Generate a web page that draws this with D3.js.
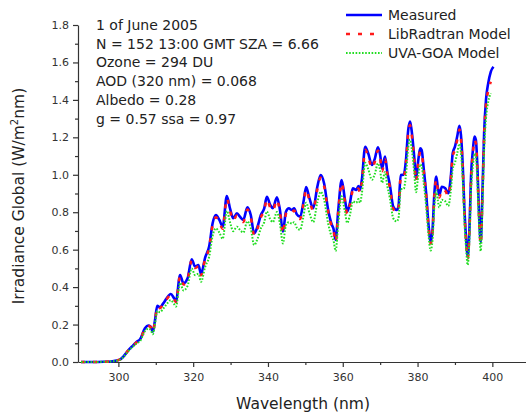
<!DOCTYPE html>
<html lang="en">
<head>
    <meta charset="UTF-8">
    <title>Irradiance</title>
    <script src="https://d3js.org/d3.v7.min.js"></script>
    <style>
        body { margin: 0; background: white; }
        text { font-family: 'DejaVu Sans', Verdana, sans-serif; fill: #222; }
        .tick text { font-size: 11px; fill: #333; }
    </style>
</head>
<body>
<script>
    const width = 526;
    const height = 414;

    const wavelength = [290, 293, 296, 298, 299.5, 300.5, 301.3, 302.7, 304, 304.9, 305.8, 307.1, 308, 308.6, 309.2, 309.8,
        310.4, 311.1, 312, 312.9, 314, 314.9, 315.4, 316.5, 317.4, 318.5, 319.6, 320.5, 321.4, 322.1, 323.2, 324.3,
        325.2, 326.1, 327, 327.9, 329, 329.9, 330.7, 331.7, 332.5, 333.4, 334.5, 335.4, 336.3, 337.2, 338.1, 339,
        339.7, 340.6, 341.3, 342.4, 343.2, 344, 344.8, 345.6, 346.4, 347, 347.7, 348.6, 349.5, 350.2, 351.1, 352.1,
        353.2, 354.1, 355, 356.1, 357.1, 357.5, 358.1, 358.8, 359.7, 360.6, 361.2, 361.9, 362.7, 363.6, 364.2, 364.6,
        365.1, 366, 366.8, 367.8, 368.6, 369.4, 370, 370.5, 371.3, 371.9, 372.6, 373.5, 374.4, 374.9, 375.5, 376.3,
        376.9, 377.5, 378, 378.4, 379.1, 379.6, 380.2, 380.7, 381.1, 381.6, 382.3, 382.9, 383.5, 384, 384.5, 385,
        385.4, 385.8, 386.5, 387.4, 388.2, 388.9, 389.4, 390, 390.6, 391.2, 391.6, 392.1, 392.5, 393, 393.4, 393.9,
        394.3, 394.8, 395.2, 395.6, 396, 396.4, 396.9, 397.3, 397.8, 398.3, 398.9, 399.6, 400.3];

    const measured = [0, 0, 0.001, 0.003, 0.008, 0.014, 0.028, 0.064, 0.09, 0.108, 0.121, 0.18, 0.195, 0.19, 0.162, 0.224,
        0.30, 0.292, 0.313, 0.34, 0.363, 0.34, 0.325, 0.465, 0.42, 0.447, 0.549, 0.51, 0.518, 0.47, 0.558, 0.62,
        0.741, 0.785, 0.759, 0.723, 0.887, 0.816, 0.768, 0.794, 0.776, 0.759, 0.826, 0.785, 0.687, 0.723, 0.785, 0.821,
        0.883, 0.839, 0.821, 0.88, 0.812, 0.696, 0.803, 0.821, 0.812, 0.821, 0.789, 0.776, 0.856, 0.935, 0.874, 0.821,
        0.936, 0.999, 0.955, 0.812, 0.732, 0.714, 0.652, 0.812, 0.972, 0.865, 0.803, 0.848, 0.928, 0.919, 0.94, 0.919,
        0.972, 1.15, 1.115, 1.052, 1.088, 1.147, 1.106, 1.035, 1.097, 1.017, 0.946, 0.83, 0.812, 0.83, 0.999, 1.0,
        1.079, 1.239, 1.284, 1.239, 1.097, 0.981, 1.079, 1.141, 1.132, 1.043, 0.901, 0.741, 0.643, 0.705, 0.901, 0.99,
        0.936, 0.892, 0.936, 0.928, 0.901, 0.99, 1.115, 1.15, 1.204, 1.261, 1.213, 1.043, 0.83, 0.652, 0.56, 0.723,
        0.99, 1.132, 1.204, 1.186, 1.043, 0.812, 0.64, 0.865, 1.222, 1.4, 1.489, 1.551, 1.577];

    const libradtran = [0, 0, 0.001, 0.003, 0.008, 0.014, 0.028, 0.063, 0.089, 0.106, 0.119, 0.177, 0.192, 0.187, 0.16, 0.221,
        0.296, 0.288, 0.308, 0.335, 0.358, 0.335, 0.32, 0.458, 0.414, 0.44, 0.541, 0.502, 0.51, 0.463, 0.55, 0.611,
        0.73, 0.773, 0.748, 0.712, 0.874, 0.804, 0.756, 0.782, 0.764, 0.748, 0.814, 0.773, 0.677, 0.712, 0.773, 0.809,
        0.87, 0.826, 0.809, 0.867, 0.8, 0.686, 0.791, 0.809, 0.8, 0.809, 0.777, 0.764, 0.843, 0.921, 0.861, 0.809,
        0.922, 0.984, 0.941, 0.8, 0.721, 0.703, 0.642, 0.8, 0.957, 0.852, 0.791, 0.835, 0.914, 0.905, 0.926, 0.905,
        0.957, 1.133, 1.098, 1.036, 1.072, 1.13, 1.089, 1.019, 1.081, 1.002, 0.932, 0.818, 0.8, 0.818, 0.984, 0.985,
        1.063, 1.22, 1.265, 1.22, 1.081, 0.966, 1.063, 1.124, 1.115, 1.027, 0.887, 0.73, 0.633, 0.694, 0.887, 0.975,
        0.922, 0.879, 0.922, 0.914, 0.887, 0.975, 1.098, 1.133, 1.186, 1.242, 1.195, 1.027, 0.818, 0.642, 0.552, 0.712,
        0.975, 1.115, 1.186, 1.168, 1.027, 0.8, 0.63, 0.852, 1.204, 1.37, 1.45, 1.497, null];

    const uvagoa = [0, 0, 0.001, 0.003, 0.007, 0.013, 0.026, 0.06, 0.084, 0.1, 0.111, 0.165, 0.178, 0.173, 0.148, 0.204,
        0.273, 0.266, 0.285, 0.309, 0.33, 0.309, 0.296, 0.423, 0.382, 0.407, 0.5, 0.464, 0.471, 0.428, 0.508, 0.564,
        0.674, 0.714, 0.691, 0.658, 0.807, 0.743, 0.699, 0.723, 0.706, 0.691, 0.752, 0.714, 0.625, 0.658, 0.714, 0.747,
        0.804, 0.763, 0.747, 0.801, 0.739, 0.633, 0.731, 0.747, 0.739, 0.747, 0.718, 0.706, 0.779, 0.851, 0.795, 0.747,
        0.852, 0.909, 0.869, 0.739, 0.666, 0.65, 0.593, 0.739, 0.885, 0.8, 0.743, 0.784, 0.858, 0.85, 0.87, 0.85,
        0.899, 1.064, 1.031, 0.973, 1.006, 1.061, 1.023, 0.957, 1.015, 0.941, 0.875, 0.768, 0.751, 0.768, 0.924, 0.925,
        0.998, 1.146, 1.188, 1.146, 1.015, 0.907, 0.998, 1.055, 1.047, 0.965, 0.833, 0.685, 0.595, 0.652, 0.833, 0.916,
        0.866, 0.825, 0.866, 0.858, 0.833, 0.916, 1.031, 1.064, 1.114, 1.166, 1.122, 0.965, 0.768, 0.603, 0.518, 0.669,
        0.916, 1.047, 1.114, 1.097, 0.965, 0.751, 0.592, 0.8, 1.13, 1.3, 1.39, 1.435, null];

    const seriesNames = ['Measured', 'LibRadtran Model', 'UVA-GOA Model'];
    const seriesColors = ['#0000ff', '#ff1a1a', '#22dd22'];
    const seriesDash = [null, '4,8', '1.6,1.6'];
    const seriesWidth = [2.6, 2.6, 2];

    const yTicks = [0, 0.2, 0.4, 0.6, 0.8, 1.0, 1.2, 1.4, 1.6, 1.8];
    const xTicks = [300, 320, 340, 360, 380, 400];

    const notes = ['1 of June 2005', 'N = 152 13:00 GMT SZA = 6.66', 'Ozone = 294 DU',
        'AOD (320 nm) = 0.068', 'Albedo = 0.28', 'g = 0.57 ssa = 0.97'];

    const svg = d3.select("body").append("svg").attr("width", width).attr("height", height);

    const x = d3.scaleLinear().domain([289.2, 409]).range([78, 526]);
    const y = d3.scaleLinear().domain([0, 1.8]).range([362, 25]);

    // minor ticks first, then the major axes
    svg.append("g").attr("transform", "translate(0,362)")
        .call(d3.axisBottom(x).tickValues(d3.range(310, 410, 20)).tickSize(3).tickFormat(""))
        .call(g => g.select(".domain").remove());
    svg.append("g").attr("transform", "translate(78,0)")
        .call(d3.axisLeft(y).tickValues(d3.range(0.1, 1.8, 0.2)).tickSize(3).tickFormat(""))
        .call(g => g.select(".domain").remove());

    const xAxis = svg.append("g").attr("transform", "translate(0,362)")
        .call(d3.axisBottom(x).tickValues(xTicks).tickSize(5).tickSizeOuter(0).tickPadding(6));
    const yAxis = svg.append("g").attr("transform", "translate(78,0)")
        .call(d3.axisLeft(y).tickValues(yTicks).tickSize(5).tickSizeOuter(0).tickPadding(4).tickFormat(d3.format(".1f")));

    svg.selectAll(".domain, .tick line").attr("stroke", "#333").attr("stroke-width", 1.2);

    const series = [measured, libradtran, uvagoa];
    const line = d3.line()
        .defined(d => d[1] != null)
        .x(d => x(d[0]))
        .y(d => y(d[1]))
        .curve(d3.curveMonotoneX);

    series.forEach((vals, i) => {
        svg.append("path")
            .datum(wavelength.map((w, j) => [w, vals[j]]))
            .attr("fill", "none")
            .attr("stroke", seriesColors[i])
            .attr("stroke-width", seriesWidth[i])
            .attr("stroke-dasharray", seriesDash[i])
            .attr("d", line);
    });

    // axis titles
    svg.append("text")
        .attr("x", 303).attr("y", 409)
        .attr("text-anchor", "middle")
        .style("font-size", "15.5px")
        .text("Wavelength (nm)");

    const yTitle = svg.append("text")
        .attr("transform", "translate(24,196) rotate(-90)")
        .attr("text-anchor", "middle")
        .style("font-size", "15.5px");
    yTitle.append("tspan").text("Irradiance Global (W/m");
    yTitle.append("tspan").attr("dy", -6).style("font-size", "10px").text("2");
    yTitle.append("tspan").attr("dy", 6).text("nm)");

    // annotation block
    svg.selectAll("text.note")
        .data(notes).join("text")
        .attr("class", "note")
        .attr("x", 96)
        .attr("y", (d, i) => 30 + i * 18.7)
        .style("font-size", "14px")
        .text(d => d);

    // legend
    const legend = svg.append("g");
    seriesNames.forEach((name, i) => {
        const ly = 15 + i * 19;
        legend.append("line")
            .attr("x1", 346).attr("x2", 382)
            .attr("y1", ly).attr("y2", ly)
            .attr("stroke", seriesColors[i])
            .attr("stroke-width", seriesWidth[i])
            .attr("stroke-dasharray", seriesDash[i]);
        legend.append("text")
            .attr("x", 388).attr("y", ly + 5)
            .style("font-size", "14px")
            .text(name);
    });
</script>
</body>
</html>
